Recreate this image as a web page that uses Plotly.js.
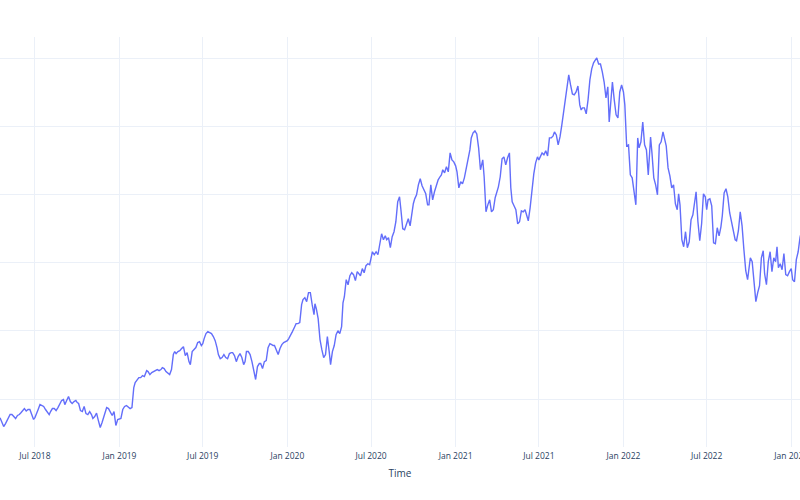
<!DOCTYPE html>
<html>
<head>
<meta charset="utf-8">
<script src="https://cdn.plot.ly/plotly-3.0.1.min.js"></script>
<style>
  html, body { margin: 0; padding: 0; background: #fff; }
  #chart { width: 800px; height: 500px; }
</style>
</head>
<body>
<div id="chart"></div>
<script>
// values, eight samples per month on these days
var sampleDays = ['01', '04', '08', '12', '16', '20', '24', '28'];

var months = [
  '2018-04', '2018-05', '2018-06', '2018-07', '2018-08', '2018-09', '2018-10', '2018-11', '2018-12',
  '2019-01', '2019-02', '2019-03', '2019-04', '2019-05', '2019-06', '2019-07', '2019-08', '2019-09', '2019-10', '2019-11', '2019-12',
  '2020-01', '2020-02', '2020-03', '2020-04', '2020-05', '2020-06', '2020-07', '2020-08', '2020-09', '2020-10', '2020-11', '2020-12',
  '2021-01', '2021-02', '2021-03', '2021-04', '2021-05', '2021-06', '2021-07', '2021-08', '2021-09', '2021-10', '2021-11', '2021-12',
  '2022-01', '2022-02', '2022-03', '2022-04', '2022-05', '2022-06', '2022-07', '2022-08', '2022-09', '2022-10', '2022-11', '2022-12',
  '2023-01'];

var values2018 = [
  null, null, null, null, 36.2, 32.8, 29.8, 32.0,   // Apr
  34.2, 36.4, 38.6, 38.6, 37.1, 35.7, 37.9, 38.6,   // May
  40.1, 41.5, 43.0, 41.2, 42.3, 42.3, 38.6, 35.0,   // Jun
  36.4, 38.6, 42.3, 45.9, 45.2, 44.5, 42.3, 40.8,   // Jul
  38.6, 40.8, 43.0, 43.0, 41.5, 43.7, 46.7, 48.9,   // Aug
  49.6, 45.9, 48.9, 51.8, 48.1, 46.7, 48.1, 48.9,   // Sep
  47.4, 46.7, 41.5, 40.8, 44.5, 39.3, 38.6, 40.8,   // Oct
  38.6, 35.7, 37.1, 39.7, 34.2, 29.1, 32.8, 37.1,   // Nov
  41.5, 43.7, 43.0, 40.8, 37.9, 40.8, 30.6, 35.0];  // Dec

var values2019 = [
  35.7, 35.7, 42.3, 44.5, 45.2, 43.7, 43.0, 43.7,
  58.4, 62.1, 64.3, 65.7, 65.7, 67.2, 66.5, 70.8,
  70.8, 70.1, 67.9, 69.4, 70.1, 70.8, 71.6, 70.8,
  71.6, 73.0, 72.3, 70.1, 68.7, 67.9, 71.6, 82.6,
  84.8, 83.3, 84.8, 85.5, 87.0, 88.4, 81.8, 84.0,
  77.4, 75.2, 84.8, 86.2, 87.7, 91.4, 92.1, 89.2,
  90.6, 94.3, 98.0, 99.4, 98.7, 98.0, 95.8, 92.8,
  87.7, 82.6, 79.6, 80.4, 82.6, 80.4, 79.6, 83.3,
  84.0, 84.0, 81.8, 77.4, 81.1, 83.3, 80.4, 75.2,
  77.4, 84.8, 84.8, 82.6, 77.4, 70.1, 64.3, 73.8,
  76.0, 76.0, 72.3, 77.4, 78.2, 87.7, 90.6, 89.9,
  89.2, 89.2, 86.2, 82.6, 87.0, 89.9, 91.4, 92.1];

var values2020 = [
  92.8, 94.3, 96.5, 99.4, 102.3, 105.3, 105.3, 106.0,
  119.2, 122.9, 124.3, 121.4, 128.0, 128.0, 119.2, 111.9,
  119.9, 116.2, 108.9, 93.6, 86.2, 80.4, 82.6, 95.8,
  84.8, 75.2, 84.8, 89.2, 97.2, 100.1, 98.0, 103.1,
  120.6, 125.0, 137.5, 133.8, 140.4, 142.6, 141.2, 136.8,
  143.4, 141.9, 140.4, 145.6, 142.6, 147.8, 149.2, 148.5,
  152.2, 158.0, 155.8, 158.0, 155.8, 165.3, 171.2, 166.8,
  169.7, 166.8, 168.3, 161.0, 169.0, 172.7, 180.0, 194.6,
  198.3, 188.8, 174.9, 174.1, 177.8, 182.2, 177.0, 188.8,
  193.2, 196.8, 199.8, 207.1, 211.5, 206.4, 202.7, 200.5,
  192.4, 192.4, 207.1, 196.1, 202.0, 207.1, 210.7, 213.0,
  214.4, 218.1, 215.9, 220.3, 216.6, 230.5, 225.4, 223.9];

var values2021 = [
  221.0, 216.6, 204.9, 209.3, 207.8, 212.2, 219.5, 223.9,
  232.7, 241.5, 245.2, 246.6, 244.4, 234.2, 218.1, 223.9,
  225.4, 213.0, 187.3, 192.4, 196.1, 187.3, 188.8, 197.6,
  202.0, 205.6, 213.0, 226.1, 227.6, 221.7, 226.9, 230.5,
  204.9, 194.6, 191.7, 188.8, 178.5, 180.0, 188.0, 187.3,
  188.8, 184.4, 180.7, 190.2, 203.4, 215.1, 223.2, 227.6,
  225.4, 227.6, 230.5, 229.1, 232.0, 228.3, 241.5, 241.5,
  243.0, 245.9, 243.7, 236.4, 242.2, 251.0, 260.6, 269.4,
  278.1, 287.7, 280.3, 273.7, 273.0, 275.2, 279.6, 265.7,
  262.0, 263.5, 263.5, 259.1, 269.4, 284.0, 292.1, 296.5,
  298.7, 300.1, 295.7, 295.7, 289.9, 282.5, 270.8, 278.9,
  253.2, 269.4, 282.5, 269.4, 258.4, 256.2, 275.2, 280.3];

var values2022 = [
  275.2, 265.7, 235.7, 236.4, 214.4, 212.2, 203.4, 192.4,
  241.5, 234.2, 238.6, 253.2, 236.4, 232.7, 214.4, 240.0,
  242.2, 230.5, 212.2, 207.1, 199.8, 236.4, 238.6, 245.9,
  238.6, 235.7, 219.5, 213.7, 204.9, 207.1, 193.2, 188.8,
  200.5, 192.4, 166.8, 161.7, 172.7, 160.9, 165.3, 181.4,
  185.1, 193.9, 202.0, 180.0, 166.1, 178.5, 200.5, 198.3,
  188.8, 196.1, 196.8, 191.7, 164.6, 163.9, 175.6, 169.7,
  176.3, 184.4, 201.2, 204.2, 198.3, 186.6, 180.0, 172.7,
  166.8, 166.1, 173.4, 187.3, 177.0, 159.5, 144.1, 137.5,
  144.8, 153.6, 150.7, 133.8, 121.4, 128.0, 133.1, 153.6,
  158.7, 141.9, 133.8, 150.7, 158.0, 143.4, 153.6, 150.7,
  161.7, 146.3, 149.2, 144.8, 156.6, 141.2, 140.4, 143.4];

var values2023 = [
  145.6, 137.5, 136.0, 152.2, 158.0, 168.3, 174.1, null];

var values = values2018.concat(values2019, values2020, values2021, values2022, values2023);

var dates = [];
months.forEach(function (m) {
  sampleDays.forEach(function (d) { dates.push(m + '-' + d); });
});

function doFirst() {
  var trace = {
    x: dates,
    y: values,
    type: 'scatter',
    mode: 'lines',
    line: { color: '#636efa', width: 1.4 }
  };

  var layout = {
    width: 800,
    height: 500,
    margin: { l: 0, r: 0, t: 37, b: 53 },
    paper_bgcolor: '#ffffff',
    plot_bgcolor: '#ffffff',
    font: { family: 'Open Sans, verdana, arial, sans-serif', color: '#2a3f5f' },
    showlegend: false,
    xaxis: {
      type: 'date',
      range: ['2018-04-16', '2023-01-20'],
      dtick: 'M6',
      tick0: '2018-01-01',
      tickformat: '%b %Y',
      gridcolor: '#EBF0F8',
      showline: false,
      zeroline: false,
      ticks: '',
      ticklabelstandoff: 2,
      ticklabeloverflow: 'allow',
      automargin: false,
      tickfont: { size: 8.5, color: '#2a3f5f' },
      title: { text: 'Time', font: { size: 10, color: '#2a3f5f' }, standoff: 10 }
    },
    yaxis: {
      range: [14.8, 315.5],
      dtick: 50,
      tick0: 0,
      gridcolor: '#EBF0F8',
      zeroline: false,
      showticklabels: false,
      ticks: '',
      automargin: false
    }
  };

  Plotly.newPlot('chart', [trace], layout, { displayModeBar: false, staticPlot: true });
}
window.addEventListener('load', doFirst, false);
</script>
</body>
</html>
